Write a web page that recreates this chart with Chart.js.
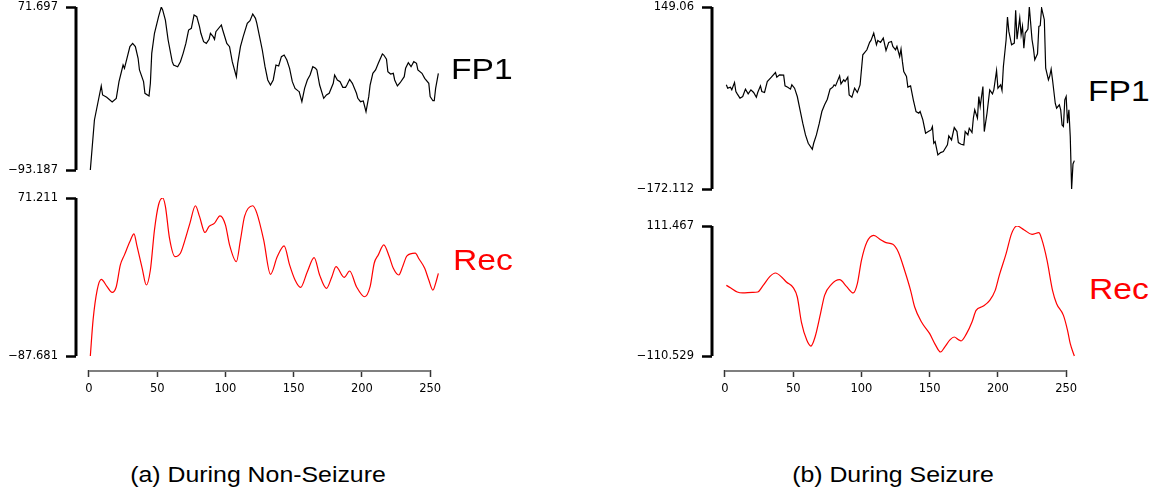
<!DOCTYPE html>
<html>
<head>
<meta charset="utf-8">
<script src="https://cdn.jsdelivr.net/npm/chart.js@4.4.0/dist/chart.umd.min.js"></script>
<style>
  html, body { margin: 0; padding: 0; background: #fff; }
  body { width: 1163px; height: 498px; position: relative; overflow: hidden; font-family: "Liberation Sans", Arial, sans-serif; }
  canvas { position: absolute; }
  .lbl { position: absolute; font-size: 30px; line-height: 30px; white-space: nowrap; transform: scaleX(1.12); transform-origin: left top; }
  .cap { position: absolute; width: 400px; text-align: center; font-size: 22px; line-height: 22px; white-space: nowrap; transform: scaleX(1.13); transform-origin: center top; color: #000; }
</style>
</head>
<body>
<canvas id="nsTop"></canvas>
<canvas id="nsBot"></canvas>
<canvas id="szTop"></canvas>
<canvas id="szBot"></canvas>

<div class="lbl" style="left:451px;top:54px;color:#000">FP1</div>
<div class="lbl" style="left:453px;top:245px;color:#ff0000">Rec</div>
<div class="lbl" style="left:1088px;top:76px;color:#000">FP1</div>
<div class="lbl" style="left:1089px;top:274px;color:#ff0000">Rec</div>

<div class="cap" style="left:58px;top:464px">(a) During Non-Seizure</div>
<div class="cap" style="left:693px;top:464px">(b) During Seizure</div>

<script>
// sample index ticks shared by both columns
let xTicks = [0, 50, 100, 150, 200, 250];

// (a) non-seizure, FP1 channel
let nsFp1X = [1,4,9,10,13,17,20,22,25,26,30,32,34,36,37,40,41,44,45,46,48,51,53,54,56,58,61,62,65,67,69,71,73,75,77,79,81,82,84,86,88,89,91,92,93,97,98,101,103,105,108,109,111,113,116,118,120,122,123,125,127,129,131,133,135,137,139,141,143,145,147,149,151,153,154,156,158,160,162,164,166,167,169,172,174,176,179,180,182,184,186,188,189,191,193,196,197,199,201,203,205,206,208,210,212,215,216,218,219,221,223,224,226,228,231,232,234,236,238,240,241,244,246,249,250,252,253,254,256];
let nsFp1Y = [-93.187,-42.6,-8.2,-17.3,-19.7,-24.4,-20.7,-3.8,13.0,9.7,31.6,34.9,31.6,19.8,8.0,-3.8,-15.6,-18.3,-5.5,24.8,45.1,61.9,71.697,68.7,58.5,38.3,16.4,13.0,11.3,16.4,24.8,34.9,48.4,50.1,63.6,61.9,51.8,45.1,36.6,34.9,39.0,45.1,41.7,39.0,46.7,53.5,48.4,34.9,31.6,16.4,1.2,14.7,31.6,41.7,55.2,57.9,64.6,60.2,55.2,41.7,28.2,11.3,-2.1,-7.2,-2.1,13.0,12.0,21.5,23.1,18.1,9.7,-3.8,-10.6,-12.9,-13.9,-24.1,-10.6,-2.1,2.9,11.3,9.7,8.0,-7.2,-20.7,-17.3,-15.6,-5.5,2.9,-2.1,-3.8,-9.6,-9.6,-7.2,-1.5,-5.5,-15.6,-20.7,-24.1,-23.4,-34.2,-19.0,-7.2,4.6,8.0,14.7,24.2,23.1,18.8,6.3,3.9,4.6,-2.1,-8.2,-4.9,1.2,9.7,15.4,11.3,16.4,14.7,8.0,4.6,-0.5,-5.5,-19.0,-23.1,-23.1,-10.6,4.6];

// (a) non-seizure, reconstruction
let nsRecX = [1,3,6,9,13,17,20,23,26,30,33,35,39,42,45,48,51,54,56,59,63,67,70,74,78,81,85,88,92,96,100,103,108,111,114,120,123,128,133,138,143,147,151,155,160,165,169,174,178,181,187,191,196,202,206,209,212,216,220,223,227,230,233,239,242,246,249,252,254,256];
let nsRecY = [-87.681,-51.6,-21.4,-10.6,-17.3,-23.7,-18.0,3.9,14.0,27.4,35.2,24.1,0.5,-16.3,-1.2,39.2,64.4,71.211,62.8,30.8,12.3,15.7,27.4,45.9,63.4,52.7,36.5,42.6,45.9,53.3,44.2,24.1,7.2,29.1,52.7,63.4,56.0,29.1,-5.5,12.3,23.1,3.9,-11.3,-18.7,-2.9,11.3,-6.2,-19.7,-7.9,2.2,-8.6,-2.2,-18.0,-28.1,-18.0,5.6,14.0,24.1,12.3,0.5,-6.2,2.9,13.0,15.7,9.6,0.5,-11.3,-21.4,-14.6,-4.5];

// (b) seizure, FP1 channel
let szFp1X = [1,2,4,5,7,8,9,11,13,15,17,19,21,23,24,26,27,29,31,34,37,38,40,43,44,46,48,49,51,53,55,57,59,61,64,65,67,69,71,73,75,77,79,80,81,84,85,87,88,90,91,93,95,97,99,101,104,106,107,109,111,112,114,116,118,120,122,123,125,126,128,129,130,131,133,134,136,138,140,142,143,145,147,149,151,152,153,154,156,158,160,161,163,164,166,168,170,171,173,175,176,178,179,181,182,183,185,186,187,189,190,192,194,196,197,199,200,202,203,204,206,207,208,210,212,213,214,216,217,218,219,220,222,223,225,226,227,229,230,231,232,234,235,237,238,239,240,242,243,245,246,247,248,249,250,251,252,253,254,255,256];
let szFp1Y = [11.7,5.8,7.6,2.9,15.8,0.0,-4.2,-11.8,-8.9,4.1,-4.2,2.9,-1.8,-10.1,-1.8,9.9,0.0,-1.8,17.6,25.3,33.5,25.3,29.4,28.8,9.9,7.6,4.1,11.7,5.8,-8.9,-32.5,-56.0,-76.7,-91.4,-102.0,-91.4,-76.7,-57.2,-35.4,-23.6,-13.6,4.1,7.6,11.7,9.9,27.6,13.5,20.6,17.6,25.3,-6.0,-10.1,5.8,-1.8,11.7,64.7,73.6,86.6,90.1,103.1,82.4,90.1,86.6,94.2,72.4,86.6,88.3,79.5,73.6,79.5,61.8,74.8,53.0,35.3,26.4,7.6,9.9,-14.8,-35.4,-38.4,-35.4,-50.1,-73.7,-70.8,-67.8,-61.9,-91.4,-88.4,-112.0,-107.9,-106.1,-102.0,-94.3,-78.4,-85.5,-63.7,-70.8,-90.2,-93.2,-94.3,-70.8,-76.7,-64.9,-72.5,-47.2,-32.5,-47.2,-8.9,-26.6,8.8,-70.8,-38.4,2.9,-4.2,2.9,37.1,5.8,11.7,1.7,44.1,91.3,131.3,106.0,82.4,85.4,143.1,92.4,129.6,100.1,114.8,76.5,103.1,110.1,149.06,91.3,76.5,55.9,66.5,114.8,116.0,147.2,126.6,41.2,20.6,27.6,39.4,20.6,-20.7,-29.5,-23.6,-32.5,-59.0,-61.9,-14.8,-8.9,-56.0,-32.5,-80.0,-172.112,-128.0,-122.0];

// (b) seizure, reconstruction
let szRecX = [1,4,9,13,20,24,28,33,37,42,45,50,53,56,60,63,66,70,73,78,84,89,94,97,100,104,109,114,118,123,127,132,136,139,144,150,154,158,161,165,168,171,173,177,181,184,189,194,198,201,206,210,214,219,225,230,232,236,240,243,248,251,253,256];
let szRecY = [10.1,6.2,-1.2,-2.9,-1.8,-1.2,10.1,25.5,31.2,23.2,15.8,6.2,-9.8,-52.5,-83.8,-93.5,-78.1,-38.2,-6.9,11.9,19.8,8.4,-2.9,13.0,52.8,84.1,95.5,88.1,83.0,80.2,67.1,32.9,1.6,-26.9,-52.5,-72.4,-90.6,-103.7,-95.2,-82.6,-78.1,-82.6,-84.9,-72.4,-52.5,-32.6,-25.7,-15.5,1.6,27.2,64.2,98.4,111.467,105.2,97.2,100.1,89.8,52.8,1.6,-21.2,-41.1,-66.7,-89.5,-110.529];

// y axis end ticks (min, max of each trace)
let nsFp1Ticks = [-93.187, 71.697];
let nsRecTicks = [-87.681, 71.211];
let szFp1Ticks = [-172.112, 149.06];
let szRecTicks = [-110.529, 111.467];

const X_MIN = -9.5;
const X_MAX = 266;
const TICK_FONT = { family: 'DejaVu Sans', size: 11.5 };

function fmt(v) {
    return v < 0 ? '\u2212' + Math.abs(v) : String(v);
}

function toPoints(xs, ys) {
    return xs.map((x, i) => ({ x: x, y: ys[i] }));
}

// R style axes: bar only between the two end ticks, x line only 0..250
let rAxes = {
    id: 'rAxes',
    afterDatasetsDraw(chart, args, opts) {
        let ctx = chart.ctx;
        let area = chart.chartArea;
        let ys = chart.scales.y;
        let xs = chart.scales.x;
        ctx.save();
        ctx.strokeStyle = '#000';
        ctx.lineWidth = 3;
        ctx.beginPath();
        ctx.moveTo(area.left, ys.getPixelForValue(opts.lo));
        ctx.lineTo(area.left, ys.getPixelForValue(opts.hi));
        ctx.stroke();
        if (opts.xLine) {
            ctx.strokeStyle = '#7f7f7f';
            ctx.lineWidth = 2;
            ctx.beginPath();
            ctx.moveTo(xs.getPixelForValue(xTicks[0]), area.bottom + 1);
            ctx.lineTo(xs.getPixelForValue(xTicks[xTicks.length - 1]), area.bottom + 1);
            ctx.stroke();
        }
        ctx.restore();
    }
};

function makePanel(id, p) {
    let cv = document.getElementById(id);
    let padTop = 15, padBottom = 15, xAxisH = 32;
    let cLeft = p.left - p.axisW;
    let cTop = p.top - padTop;
    cv.width = p.right - cLeft;
    cv.height = p.bottom + (p.showX ? xAxisH : padBottom) - cTop;
    cv.style.left = cLeft + 'px';
    cv.style.top = cTop + 'px';

    let lo = p.ticks[0], hi = p.ticks[1];
    let perPx = (hi - lo) / (p.dataBottom - p.top);
    let yMin = lo - (p.bottom - p.dataBottom) * perPx;

    return new Chart(cv, {
        type: 'line',
        data: {
            datasets: [{
                data: toPoints(p.xs, p.ys),
                borderColor: p.color,
                borderWidth: 1.2,
                pointRadius: 0,
                fill: false,
                tension: p.smooth ? 0.4 : 0,
                cubicInterpolationMode: p.smooth ? 'monotone' : 'default'
            }]
        },
        options: {
            responsive: false,
            animation: false,
            events: [],
            layout: { padding: { top: padTop, right: 0, left: 0, bottom: p.showX ? 0 : padBottom } },
            plugins: {
                legend: { display: false },
                tooltip: { enabled: false },
                rAxes: { lo: lo, hi: hi, xLine: p.showX }
            },
            scales: {
                x: {
                    type: 'linear',
                    min: X_MIN,
                    max: X_MAX,
                    display: p.showX,
                    afterBuildTicks: s => { s.ticks = xTicks.map(v => ({ value: v })); },
                    afterFit: s => { s.height = p.showX ? xAxisH : 0; },
                    border: { display: false },
                    grid: { drawOnChartArea: false, drawTicks: true, tickLength: 7, tickWidth: 1.5, tickColor: '#333' },
                    ticks: { padding: 5, color: '#000', font: TICK_FONT, maxRotation: 0, autoSkip: false, callback: v => String(v) }
                },
                y: {
                    type: 'linear',
                    min: yMin,
                    max: hi,
                    afterBuildTicks: s => { s.ticks = p.ticks.map(v => ({ value: v })); },
                    afterFit: s => { s.width = p.axisW; },
                    border: { display: false },
                    grid: { drawOnChartArea: false, drawTicks: true, tickLength: 10, tickWidth: 2.5, tickColor: '#000' },
                    ticks: { padding: 8, color: '#000', font: TICK_FONT, autoSkip: false, callback: v => fmt(v) }
                }
            }
        },
        plugins: [rAxes]
    });
}

makePanel('nsTop', { left: 76, right: 452, top: 7, bottom: 170, dataBottom: 170, axisW: 76, showX: false,
    xs: nsFp1X, ys: nsFp1Y, ticks: nsFp1Ticks, color: '#000', smooth: false });
makePanel('nsBot', { left: 76, right: 452, top: 198, bottom: 370, dataBottom: 356, axisW: 76, showX: true,
    xs: nsRecX, ys: nsRecY, ticks: nsRecTicks, color: '#ff0000', smooth: true });
makePanel('szTop', { left: 712, right: 1088, top: 7, bottom: 189, dataBottom: 189, axisW: 112, showX: false,
    xs: szFp1X, ys: szFp1Y, ticks: szFp1Ticks, color: '#000', smooth: false });
makePanel('szBot', { left: 712, right: 1088, top: 226, bottom: 370, dataBottom: 356, axisW: 112, showX: true,
    xs: szRecX, ys: szRecY, ticks: szRecTicks, color: '#ff0000', smooth: true });
</script>
</body>
</html>
